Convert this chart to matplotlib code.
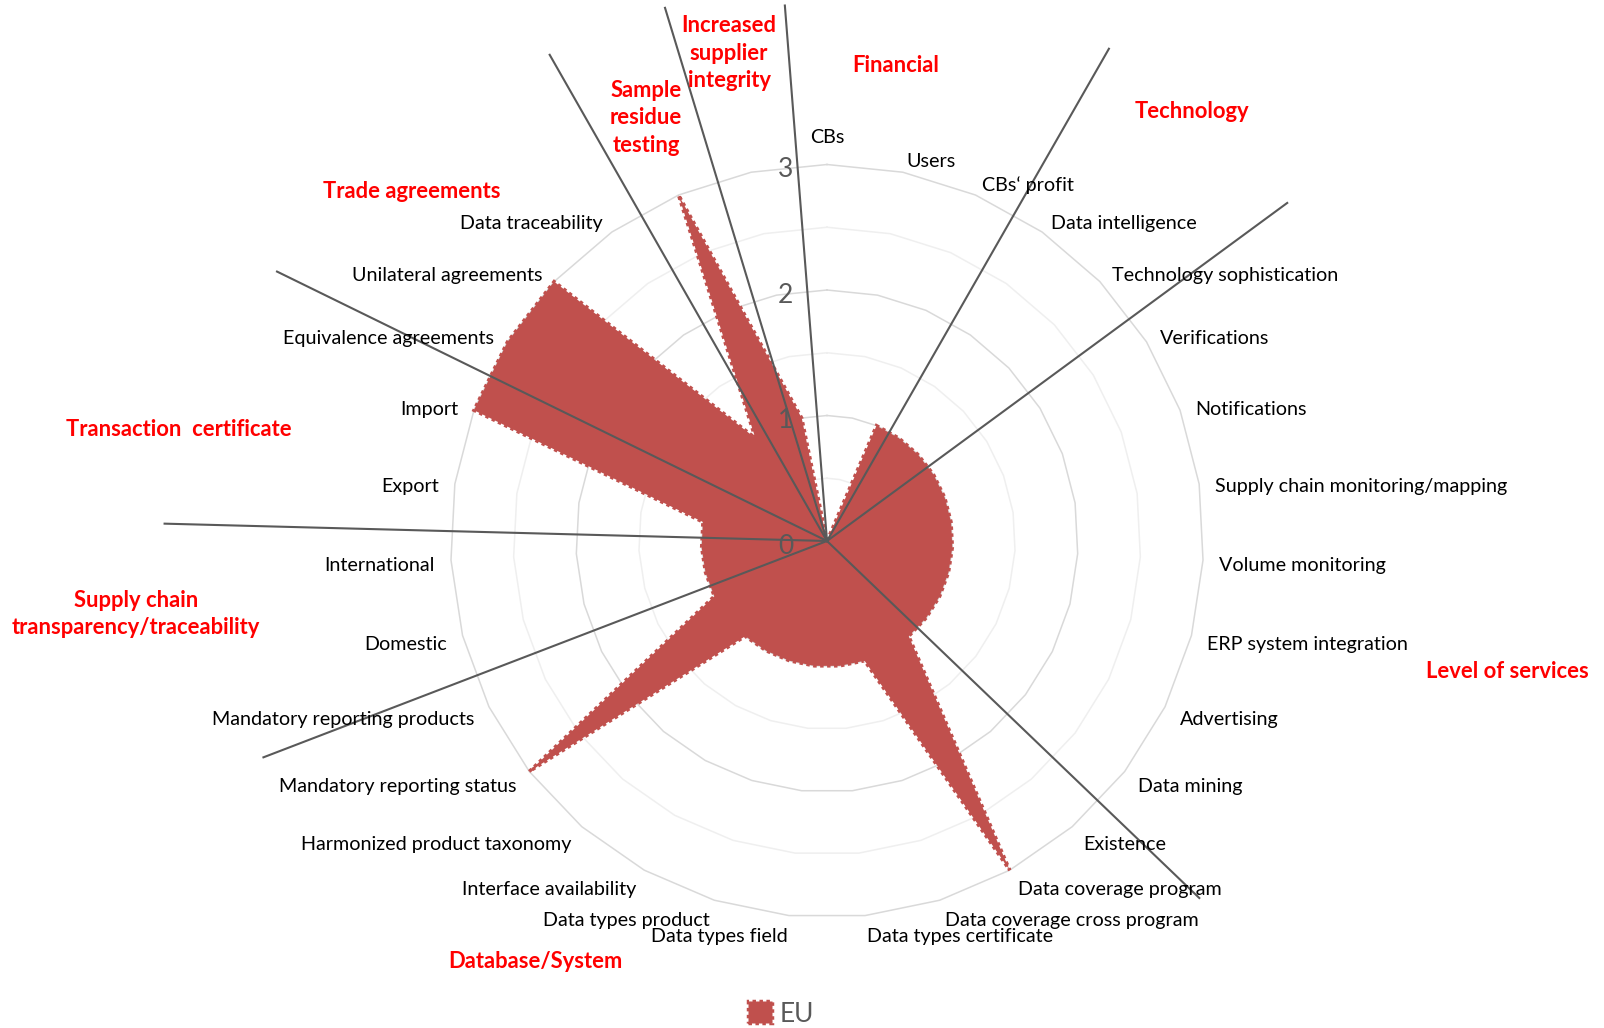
import numpy as np
import matplotlib.pyplot as plt

plt.rcParams['font.family'] = ['Lato', 'DejaVu Sans']

# categories clockwise from the top (last two carry only a red group title)
categories = ["CBs", "Users", "CBs\u2018 profit", "Data intelligence",
              "Technology sophistication", "Verifications", "Notifications",
              "Supply chain monitoring/mapping", "Volume monitoring",
              "ERP system integration", "Advertising", "Data mining", "Existence",
              "Data coverage program", "Data coverage cross program",
              "Data types certificate", "Data types field", "Data types product",
              "Interface availability", "Harmonized product taxonomy",
              "Mandatory reporting status", "Mandatory reporting products",
              "Domestic", "International", "Export", "Import",
              "Equivalence agreements", "Unilateral agreements",
              "Data traceability", "", ""]
eu_values = [0, 0, 1, 1, 1, 1, 1, 1, 1, 1, 1, 1, 1, 3, 1, 1, 1, 1, 1, 1,
             3, 1, 1, 1, 1, 3, 3, 3, 1, 3, 1]
ticks = [0, 1, 2, 3]
grid_levels = [0.5, 1, 1.5, 2, 2.5, 3]

# group titles and the hand-drawn separator lines
groups = ["Increased\nsupplier\nintegrity", "Financial", "Sample\nresidue\ntesting",
          "Technology", "Trade agreements", "Transaction  certificate",
          "Supply chain\ntransparency/traceability", "Level of services",
          "Database/System"]
group_px = [(729, 53), (896, 65), (646, 118), (1192, 111), (412, 191),
            (179, 429), (136, 614), (1507, 671), (535, 962)]
sep_angles = [355.5, 343.1, 330.3, 296.1, 271.5, 249.0, 133.8, 53.7, 29.8]
sep_lengths = [4.28, 4.44, 4.46, 4.88, 5.28, 4.81, 4.11, 4.55, 4.52]

W, H = 1604, 1028
cx, cy = 827, 541      # centre of the radar in pixels
scale = 125.5          # pixels per unit

fig = plt.figure(figsize=(W / 100, H / 100), dpi=100)
ax = fig.add_axes([0, 0, 1, 1])
ax.set_xlim(-cx / scale, (W - cx) / scale)
ax.set_ylim(-(H - cy) / scale, cy / scale)
ax.axis('off')

n = len(categories)
theta = np.arange(n) * 2 * np.pi / n
ux, uy = np.sin(theta), np.cos(theta)

def closed(a):
    return np.append(a, a[0])

# polygon grid
for lev in grid_levels:
    col = '#d9d9d9' if lev == int(lev) else '#efefef'
    ax.plot(closed(ux * lev), closed(uy * lev), color=col, lw=1.1, zorder=1)

vals = np.array(eu_values, dtype=float)
ax.fill(closed(ux * vals), closed(uy * vals), facecolor='#C0504D',
        edgecolor='#C0504D', linestyle=(0, (1, 1)), lw=2.5, zorder=2, label='EU')

# category labels
r_lab = 3.13
for i, lab in enumerate(categories):
    if not lab:
        continue
    d = np.degrees(theta[i])
    if d < 1:
        ax.text(0, r_lab + 0.02, lab, ha='center', va='bottom',
                fontsize=14.2, color='black', zorder=5)
        continue
    ha = 'left' if d < 180 else 'right'
    ax.text(ux[i] * r_lab, uy[i] * r_lab - 0.04, lab, ha=ha, va='center',
            fontsize=14.2, color='black', zorder=5)

# radial tick labels
for t in ticks:
    ax.text(-0.33, t - 0.04, str(t), ha='center', va='center',
            fontsize=19, color='#595959', zorder=3)

# separator lines
for a, L in zip(sep_angles, sep_lengths):
    r = np.radians(a)
    ax.plot([0, np.sin(r) * L], [0, np.cos(r) * L], color='#595959', lw=1.5, zorder=4)

# group titles
for g, (px, py) in zip(groups, group_px):
    ax.text((px - cx) / scale, (cy - py) / scale, g, ha='center', va='center',
            fontsize=15.8, fontweight='bold', color='#FF0000', linespacing=1.4, zorder=5)

leg = ax.legend(loc='center', bbox_to_anchor=(0.487, 0.0136), bbox_transform=fig.transFigure,
                frameon=False, fontsize=19, handlelength=0.9, handleheight=0.9,
                handletextpad=0.3)
for txt in leg.get_texts():
    txt.set_color('#595959')

fig.savefig('out.png', dpi=100)
